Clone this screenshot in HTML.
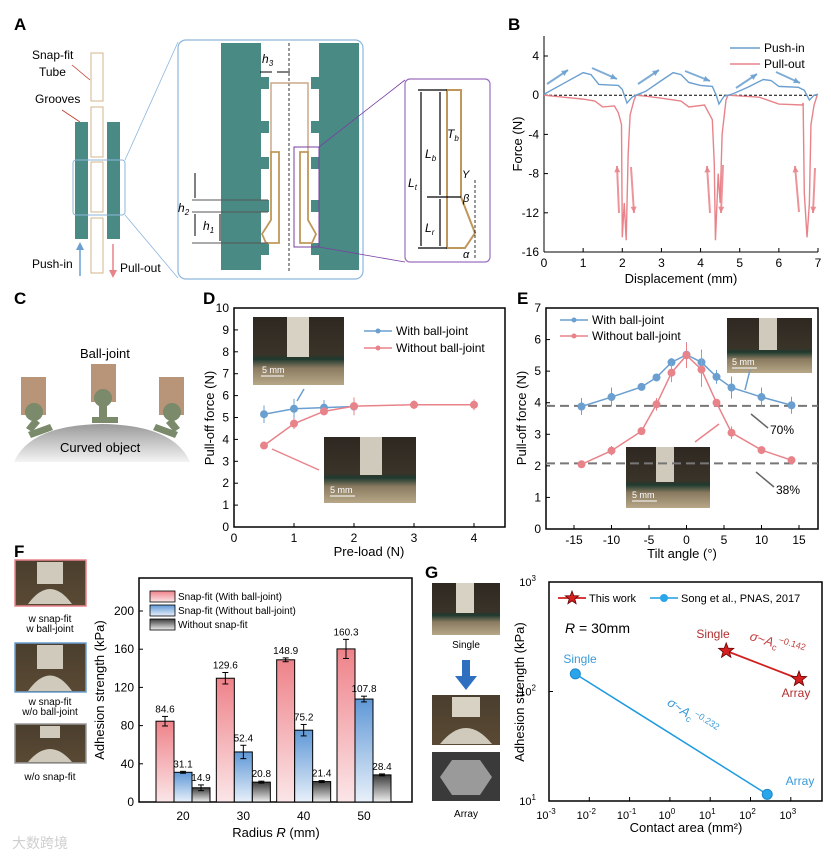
<!DOCTYPE html>
<html><head><meta charset="utf-8">
<style>
html,body{margin:0;padding:0;background:#fff;}
svg{display:block;font-family:"Liberation Sans","Noto Sans CJK SC",sans-serif;}
</style></head>
<body>
<svg id="fig" width="831" height="856" viewBox="0 0 831 856">
<defs>
<linearGradient id="gRed" x1="0" y1="0" x2="0" y2="1"><stop offset="0" stop-color="#ee8289"/><stop offset="1" stop-color="#fbe6e8"/></linearGradient>
<linearGradient id="gBlue" x1="0" y1="0" x2="0" y2="1"><stop offset="0" stop-color="#5f98d6"/><stop offset="1" stop-color="#e8f0fa"/></linearGradient>
<linearGradient id="gGray" x1="0" y1="0" x2="0" y2="1"><stop offset="0" stop-color="#3a3a3a"/><stop offset="1" stop-color="#f0f0f0"/></linearGradient>
<linearGradient id="gPhoto" x1="0" y1="0" x2="0" y2="1"><stop offset="0" stop-color="#2e2822"/><stop offset="0.55" stop-color="#3a3328"/><stop offset="0.62" stop-color="#1f3a30"/><stop offset="0.75" stop-color="#8a7a60"/><stop offset="1" stop-color="#b8a888"/></linearGradient>
<linearGradient id="gDome" x1="0" y1="0" x2="0" y2="1"><stop offset="0" stop-color="#9a9a9a"/><stop offset="1" stop-color="#f4f4f4"/></linearGradient>
<linearGradient id="gBottle" x1="0" y1="0" x2="0" y2="1"><stop offset="0" stop-color="#4a3e2e"/><stop offset="1" stop-color="#5a4a34"/></linearGradient>
</defs>

<!-- Panel labels -->
<g font-weight="bold" font-size="17" fill="#000">
<text x="14" y="30">A</text>
<text x="508" y="30">B</text>
<text x="14" y="304">C</text>
<text x="203" y="304">D</text>
<text x="517" y="304">E</text>
<text x="14" y="557">F</text>
<text x="425" y="578">G</text>
</g>

<!-- Panel A schematic -->
<g>
  <text x="32" y="59" font-size="12">Snap-fit</text>
  <text x="39" y="76" font-size="12">Tube</text>
  <text x="35" y="103" font-size="12">Grooves</text>
  <line x1="72" y1="65" x2="90" y2="80" stroke="#c0392b" stroke-width="0.8"/>
  <line x1="62" y1="110" x2="80" y2="122" stroke="#c0392b" stroke-width="0.8"/>
  <rect x="75" y="122" width="13" height="117" fill="#4a8a84"/>
  <rect x="107" y="122" width="13" height="117" fill="#4a8a84"/>
  <g fill="none" stroke="#c8a46e" stroke-width="0.8">
    <rect x="91" y="53" width="12" height="48"/><rect x="91" y="107" width="12" height="50"/>
    <rect x="91" y="162" width="12" height="50"/><rect x="91" y="218" width="12" height="55"/>
  </g>
  <rect x="73" y="160" width="52" height="55" rx="3" fill="none" stroke="#8cb6dc" stroke-width="1"/>
  <line x1="80" y1="276" x2="80" y2="248" stroke="#6a9fd0" stroke-width="1.5"/>
  <polygon points="76,250 84,250 80,242" fill="#6a9fd0"/>
  <line x1="113" y1="244" x2="113" y2="272" stroke="#e8838a" stroke-width="1.5"/>
  <polygon points="109,270 117,270 113,278" fill="#e8838a"/>
  <text x="32" y="268" font-size="12">Push-in</text>
  <text x="120" y="272" font-size="12">Pull-out</text>
  <line x1="125" y1="160" x2="178" y2="42" stroke="#8cb6dc" stroke-width="0.8"/>
  <line x1="125" y1="215" x2="178" y2="278" stroke="#8cb6dc" stroke-width="0.8"/>
  <rect x="178" y="40" width="185" height="239" rx="8" fill="none" stroke="#8cb6dc" stroke-width="1.2"/>
  <rect x="221" y="43" width="40" height="227" fill="#4a8a84"/>
  <rect x="319" y="43" width="40" height="227" fill="#4a8a84"/>
  <g fill="#4a8a84">
    <rect x="261" y="77" width="8" height="12"/><rect x="261" y="121" width="8" height="12"/><rect x="261" y="157" width="8" height="12"/><rect x="261" y="200" width="8" height="12"/><rect x="261" y="243" width="8" height="12"/>
    <rect x="311" y="77" width="8" height="12"/><rect x="311" y="121" width="8" height="12"/><rect x="311" y="157" width="8" height="12"/><rect x="311" y="200" width="8" height="12"/><rect x="311" y="243" width="8" height="12"/>
  </g>
  <line x1="289" y1="43" x2="289" y2="272" stroke="#000" stroke-width="0.8" stroke-dasharray="3,2"/>
  <polyline points="271,152 271,83 308,83 308,152" fill="none" stroke="#c8a88a" stroke-width="1.5"/>
  <polygon points="271,152 279,152 279,243 266,243 262,234 271,220" fill="none" stroke="#c0975a" stroke-width="1.8"/>
  <polygon points="300,152 308,152 308,220 316,234 312,243 300,243" fill="none" stroke="#c0975a" stroke-width="1.8"/>
  <rect x="294" y="147" width="25" height="100" fill="none" stroke="#7a3fa0" stroke-width="1"/>
  <line x1="260" y1="72" x2="272" y2="72" stroke="#000"/><line x1="290" y1="72" x2="277" y2="72" stroke="#000"/>
  <text x="262" y="63" font-size="12" font-style="italic">h<tspan font-size="8" dy="3">3</tspan></text>
  <line x1="192" y1="200" x2="268" y2="200" stroke="#555"/><line x1="192" y1="212" x2="268" y2="212" stroke="#555"/><line x1="192" y1="243" x2="268" y2="243" stroke="#555"/>
  <line x1="195" y1="173" x2="195" y2="198" stroke="#000"/><line x1="195" y1="214" x2="195" y2="236" stroke="#000"/><line x1="220" y1="214" x2="220" y2="241" stroke="#000"/>
  <text x="178" y="212" font-size="12" font-style="italic">h<tspan font-size="8" dy="3">2</tspan></text>
  <text x="203" y="230" font-size="12" font-style="italic">h<tspan font-size="8" dy="3">1</tspan></text>
  <line x1="319" y1="147" x2="405" y2="80" stroke="#7a3fa0" stroke-width="0.8"/>
  <line x1="319" y1="247" x2="405" y2="262" stroke="#7a3fa0" stroke-width="0.8"/>
  <rect x="405" y="79" width="85" height="183" rx="5" fill="none" stroke="#9a6fbe" stroke-width="1.2"/>
  <polygon points="447,90 461,90 461,197 475,233 465,248 447,248" fill="none" stroke="#c0975a" stroke-width="2"/>
  <g stroke="#000" stroke-width="1.2">
    <line x1="418" y1="90" x2="447" y2="90"/><line x1="427" y1="197" x2="461" y2="197"/><line x1="418" y1="248" x2="447" y2="248"/>
    <line x1="421" y1="92" x2="421" y2="246"/><line x1="440" y1="92" x2="440" y2="195"/><line x1="440" y1="199" x2="440" y2="246"/>
  </g>
  <text x="408" y="187" font-size="12" font-style="italic">L<tspan font-size="8" dy="3">t</tspan></text>
  <text x="425" y="158" font-size="12" font-style="italic">L<tspan font-size="8" dy="3">b</tspan></text>
  <text x="425" y="232" font-size="12" font-style="italic">L<tspan font-size="8" dy="3">r</tspan></text>
  <text x="447" y="138" font-size="12" font-style="italic">T<tspan font-size="8" dy="3">b</tspan></text>
  <text x="462" y="178" font-size="11" font-style="italic">Y</text>
  <text x="463" y="202" font-size="11" font-style="italic">β</text>
  <text x="463" y="258" font-size="11" font-style="italic">α</text>
  <line x1="475" y1="180" x2="475" y2="258" stroke="#000" stroke-width="0.8" stroke-dasharray="3,2"/>
</g>

<!-- Panel C -->
<g>
  <text x="80" y="358" font-size="13">Ball-joint</text>
  <path d="M14,462 Q30,425 102,424 Q174,425 190,462 Z" fill="url(#gDome)"/>
  <text x="60" y="452" font-size="13">Curved object</text>
  <g fill="#b89578"><rect x="21" y="377" width="25" height="38"/><rect x="91" y="364" width="25" height="38"/><rect x="159" y="377" width="25" height="38"/></g>
  <g fill="#7a8a6a">
    <circle cx="34" cy="412" r="9"/><circle cx="103" cy="398" r="9"/><circle cx="172" cy="412" r="9"/>
    <rect x="99" y="405" width="8" height="14"/><rect x="92" y="417" width="26" height="6"/>
    <polygon points="34,418 40,423 32,432 26,428"/><polygon points="28,432 50,424 53,430 31,438"/>
    <polygon points="172,418 166,423 174,432 180,428"/><polygon points="178,432 156,424 153,430 175,438"/>
  </g>
</g>

<!-- Photos (insets) -->
<g>
  <rect x="253" y="317" width="91" height="68" fill="url(#gPhoto)"/>
  <rect x="287" y="317" width="22" height="40" fill="#d8d2c4"/>
  <text x="262" y="373" font-size="9" fill="#fff">5 mm</text><line x1="261" y1="376" x2="284" y2="376" stroke="#fff"/>
  <rect x="324" y="437" width="92" height="66" fill="url(#gPhoto)"/>
  <rect x="360" y="437" width="22" height="38" fill="#d0cabc"/>
  <text x="330" y="493" font-size="9" fill="#fff">5 mm</text><line x1="330" y1="496" x2="355" y2="496" stroke="#fff"/>
  <rect x="727" y="318" width="85" height="55" fill="url(#gPhoto)"/>
  <rect x="759" y="318" width="18" height="32" fill="#d0cabc"/>
  <text x="732" y="365" font-size="9" fill="#fff">5 mm</text><line x1="732" y1="368" x2="757" y2="368" stroke="#fff"/>
  <rect x="626" y="447" width="84" height="61" fill="url(#gPhoto)"/>
  <rect x="656" y="447" width="18" height="35" fill="#d0cabc"/>
  <text x="632" y="498" font-size="9" fill="#fff">5 mm</text><line x1="632" y1="501" x2="657" y2="501" stroke="#fff"/>
  <rect x="15" y="560" width="71" height="46" fill="url(#gBottle)" stroke="#e8838a" stroke-width="1.5"/>
  <rect x="15" y="643" width="71" height="49" fill="url(#gBottle)" stroke="#6a9fd0" stroke-width="1.5"/>
  <rect x="15" y="724" width="71" height="39" fill="url(#gBottle)" stroke="#999" stroke-width="1.5"/>
  <g fill="#cfcabb"><rect x="37" y="562" width="26" height="22"/><path d="M28,604 Q50,574 72,604Z"/><rect x="37" y="645" width="26" height="24"/><path d="M28,691 Q50,660 72,691Z"/><rect x="40" y="726" width="20" height="12"/><path d="M28,762 Q50,736 72,762Z"/></g>
  <g font-size="10" text-anchor="middle">
    <text x="50" y="622">w snap-fit</text><text x="50" y="632">w ball-joint</text>
    <text x="50" y="705">w snap-fit</text><text x="50" y="715">w/o ball-joint</text>
    <text x="50" y="780">w/o snap-fit</text>
  </g>
  <rect x="432" y="583" width="68" height="52" fill="url(#gPhoto)"/>
  <rect x="456" y="583" width="18" height="30" fill="#d8d2c4"/>
  <text x="466" y="648" font-size="10" text-anchor="middle">Single</text>
  <rect x="462" y="660" width="8" height="16" fill="#2e6fc0"/><polygon points="455,676 477,676 466,690" fill="#2e6fc0"/>
  <rect x="432" y="695" width="68" height="50" fill="url(#gBottle)"/>
  <rect x="452" y="697" width="28" height="20" fill="#d8d2c4"/><path d="M440,744 Q466,712 492,744Z" fill="#cfcabb"/>
  <rect x="432" y="752" width="68" height="49" fill="#3a3a3a"/>
  <polygon points="452,760 480,760 492,777 480,795 452,795 440,777" fill="#9a9a9a"/>
  <text x="466" y="817" font-size="10" text-anchor="middle">Array</text>
</g>
<text x="12" y="848" font-size="14" fill="#cfcfcf">大数跨境</text>

<g id="charts"></g>
</svg>

<script>
// ---- Panel B data ----
const bPushX = [0,0.5,1.0,1.2,1.4,1.9,2.0,2.12,2.25,2.35,2.6,3.0,3.3,3.5,3.7,4.0,4.3,4.4,4.47,4.6,4.8,5.2,5.6,5.8,6.0,6.5,6.65,6.78,6.9,7.0];
const bPushY = [0.1,1.2,2.3,2.1,1.1,1.0,0.6,-0.8,-0.2,0,0.4,1.5,2.3,2.1,1.3,1.0,0.9,0,-0.9,-0.1,0.1,0.8,1.6,1.5,0.9,0.8,0.5,-0.5,0,0.1];
const bPullX = [0,0.5,1,1.3,1.5,1.8,1.9,1.98,2.0,2.05,2.1,2.15,2.2,2.3,2.35,2.6,3,3.5,3.7,4.1,4.3,4.35,4.38,4.45,4.5,4.55,4.65,4.7,5.5,6.0,6.6,6.62,6.65,6.72,6.78,6.82,6.9,6.98];
const bPullY = [0,-0.2,-0.4,-0.6,-1.2,-1.1,-1.8,-3,-14.5,-11,-14.8,-6,-2,-0.5,0,-0.1,-0.3,-0.6,-1.2,-1.0,-2.5,-7,-14.8,-8,-11,-4,-0.5,0,-0.2,-0.9,-1.0,-0.8,-10,-14.5,-11,-3,-1,0];
const bXTicks = [0,1,2,3,4,5,6,7];
const bYTicks = [4,0,-4,-8,-12,-16];
// ---- Panel D data ----
const dWithX = [0.5,1,1.5,2];
const dWithY = [5.15,5.4,5.45,5.5];
const dWithErr = [0.4,0.45,0.35,0.4];
const dWoX = [0.5,1,1.5,2,3,4];
const dWoY = [3.72,4.72,5.28,5.52,5.58,5.58];
const dWoErr = [0.05,0.25,0.15,0.4,0.2,0.25];
const dXTicks = [0,1,2,3,4];
const dYTicks = [0,1,2,3,4,5,6,7,8,9,10];
// ---- Panel E data ----
const eAngles = [-14,-10,-6,-4,-2,0,2,4,6,10,14];
const eWithY = [3.88,4.18,4.5,4.8,5.28,5.52,5.28,4.82,4.48,4.18,3.92];
const eWithErr = [0.27,0.3,0.07,0.08,0.13,0.4,0.4,0.22,0.35,0.3,0.27];
const eWoY = [2.05,2.48,3.1,3.95,4.95,5.5,5.05,4.0,3.05,2.5,2.18];
const eWoErr = [0.05,0.15,0.07,0.2,0.3,0.4,0.55,0.1,0.2,0.08,0.07];
const eRefLines = [3.9,2.08];
const eXTicks = [-15,-10,-5,0,5,10,15];
const eYTicks = [0,1,2,3,4,5,6,7];
// ---- Panel F data ----
const fRadii = [20,30,40,50];
const fWithBall = [84.6,129.6,148.9,160.3];
const fWithBallErr = [5,6,2,10];
const fWoBall = [31.1,52.4,75.2,107.8];
const fWoBallErr = [1,7,6,3];
const fWoSnap = [14.9,20.8,21.4,28.4];
const fWoSnapErr = [3,1,1,1];
const fYTicks = [0,40,80,120,160,200];
// ---- Panel G data ----
const gThisArea = [25,1600];
const gThisStrength = [235,130];
const gSongArea = [0.0045,260];
const gSongStrength = [145,11.5];
const gXTickExp = [-3,-2,-1,0,1,2,3];
const gYTickExp = [1,2,3];

const NS = 'http://www.w3.org/2000/svg';
const root = document.getElementById('charts');
function mk(parent, tag, attrs, name, inter) {
  const el = document.createElementNS(NS, tag);
  for (const k in attrs) el.setAttribute(k, attrs[k]);
  
  
  parent.appendChild(el);
  return el;
}
function txt(parent, x, y, s, size, anchor, name, extra) {
  const t = mk(parent, 'text', Object.assign({x:x, y:y, 'font-size':size, 'text-anchor':anchor||'middle'}, extra||{}), name, false);
  t.textContent = s;
  return t;
}
function lin(d0,d1,r0,r1){return v=>r0+(v-d0)*(r1-r0)/(d1-d0);}
const RED='#e8838a', BLUE='#6a9fd0';

// ===== Panel B =====
(function(){
  const g = mk(root,'g',{},'panel-b-force-chart',false);
  const X = lin(0,7,544,818), Y = lin(4,-16,56,252);
  mk(g,'line',{x1:544,y1:36,x2:544,y2:252,stroke:'#000','stroke-width':1},'y-axis',false);
  mk(g,'line',{x1:544,y1:252,x2:818,y2:252,stroke:'#000','stroke-width':1},'x-axis',false);
  bXTicks.forEach(v=>{
    mk(g,'line',{x1:X(v),y1:252,x2:X(v),y2:248,stroke:'#000'},'x-tick',false);
    txt(g,X(v),267,String(v),12,'middle','x-tick-label');
  });
  bYTicks.forEach(v=>{
    mk(g,'line',{x1:544,y1:Y(v),x2:548,y2:Y(v),stroke:'#000'},'y-tick',false);
    txt(g,539,Y(v)+4,String(v),12,'end','y-tick-label');
  });
  txt(g,681,283,'Displacement (mm)',13,'middle','x-axis-title');
  txt(g,0,0,'Force (N)',13,'middle','y-axis-title',{transform:'translate(522,144) rotate(-90)'});
  mk(g,'line',{x1:544,y1:Y(0),x2:818,y2:Y(0),stroke:'#000','stroke-dasharray':'3,2'},'zero-line',false);
  mk(g,'polyline',{points:bPullX.map((x,i)=>X(x)+','+Y(bPullY[i])).join(' '),fill:'none',stroke:RED,'stroke-width':1.4},'pull-out-line',false);
  mk(g,'polyline',{points:bPushX.map((x,i)=>X(x)+','+Y(bPushY[i])).join(' '),fill:'none',stroke:BLUE,'stroke-width':1.4},'push-in-line',false);
  mk(g,'line',{x1:730,y1:48,x2:760,y2:48,stroke:BLUE,'stroke-width':1.5},'legend-push-swatch',false);
  txt(g,764,52,'Push-in',12,'start','legend-push-in');
  mk(g,'line',{x1:730,y1:64,x2:760,y2:64,stroke:RED,'stroke-width':1.5},'legend-pull-swatch',false);
  txt(g,764,68,'Pull-out',12,'start','legend-pull-out');
  const arr = [[547,84,568,70,BLUE],[592,68,617,79,BLUE],[638,84,659,70,BLUE],[685,71,710,81,BLUE],[736,88,757,74,BLUE],[776,72,800,83,BLUE],
               [619,213,617,166,RED],[631,167,634,213,RED],[710,213,707,166,RED],[723,165,721,213,RED],[799,212,795,166,RED],[815,168,813,213,RED]];
  arr.forEach(a=>{
    mk(g,'line',{x1:a[0],y1:a[1],x2:a[2],y2:a[3],stroke:a[4],'stroke-width':2,opacity:0.85},'trend-arrow',false);
    const ang=Math.atan2(a[3]-a[1],a[2]-a[0]);
    const p=(r,da)=>(a[2]-r*Math.cos(ang+da))+','+(a[3]-r*Math.sin(ang+da));
    mk(g,'polygon',{points:a[2]+','+a[3]+' '+p(7,0.45)+' '+p(7,-0.45),fill:a[4],opacity:0.85},'trend-arrowhead',false);
  });
})();

// ===== Panel D =====
(function(){
  const g = mk(root,'g',{},'panel-d-preload-chart',false);
  const X = lin(0,4,234,474), Y = lin(0,10,527,308);
  mk(g,'rect',{x:234,y:308,width:271,height:219,fill:'none',stroke:'#000','stroke-width':1.5},'plot-frame',false);
  dXTicks.forEach(v=>{
    mk(g,'line',{x1:X(v),y1:527,x2:X(v),y2:523,stroke:'#000'},'x-tick',false);
    txt(g,X(v),542,String(v),12,'middle','x-tick-label');
  });
  dYTicks.forEach(v=>{
    mk(g,'line',{x1:234,y1:Y(v),x2:238,y2:Y(v),stroke:'#000'},'y-tick',false);
    txt(g,229,Y(v)+4,String(v),12,'end','y-tick-label');
  });
  txt(g,369,556,'Pre-load (N)',13,'middle','x-axis-title');
  txt(g,0,0,'Pull-off force (N)',13,'middle','y-axis-title',{transform:'translate(214,418) rotate(-90)'});
  [[dWithX,dWithY,dWithErr,BLUE,'with-ball-joint'],[dWoX,dWoY,dWoErr,RED,'without-ball-joint']].forEach(s=>{
    mk(g,'polyline',{points:s[0].map((x,i)=>X(x)+','+Y(s[1][i])).join(' '),fill:'none',stroke:s[3],'stroke-width':1.5},s[4]+'-line',false);
    s[0].forEach((x,i)=>{
      mk(g,'line',{x1:X(x),y1:Y(s[1][i]-s[2][i]),x2:X(x),y2:Y(s[1][i]+s[2][i]),stroke:s[3]},'error-bar',false);
      mk(g,'circle',{cx:X(x),cy:Y(s[1][i]),r:4,fill:s[3]},s[4]+'-point',false);
    });
  });
  mk(g,'line',{x1:364,y1:331,x2:392,y2:331,stroke:BLUE,'stroke-width':1.5},'legend-swatch',false);
  mk(g,'circle',{cx:378,cy:331,r:2.5,fill:BLUE},'legend-marker',false);
  txt(g,396,335,'With ball-joint',12,'start','legend-with-ball-joint');
  mk(g,'line',{x1:364,y1:348,x2:392,y2:348,stroke:RED,'stroke-width':1.5},'legend-swatch',false);
  mk(g,'circle',{cx:378,cy:348,r:2.5,fill:RED},'legend-marker',false);
  txt(g,396,352,'Without ball-joint',12,'start','legend-without-ball-joint');
  mk(g,'line',{x1:304,y1:389,x2:297,y2:401,stroke:BLUE,'stroke-width':1.5},'pointer-arrow',false);
  mk(g,'line',{x1:319,y1:470,x2:272,y2:449,stroke:RED,'stroke-width':1.5},'pointer-arrow',false);
})();

// ===== Panel E =====
(function(){
  const g = mk(root,'g',{},'panel-e-tilt-chart',false);
  const X = lin(-15,15,574,799), Y = lin(0,7,529,308);
  mk(g,'rect',{x:546,y:308,width:272,height:221,fill:'none',stroke:'#000','stroke-width':1.5},'plot-frame',false);
  eXTicks.forEach(v=>{
    mk(g,'line',{x1:X(v),y1:529,x2:X(v),y2:525,stroke:'#000'},'x-tick',false);
    txt(g,X(v),544,String(v),12,'middle','x-tick-label');
  });
  eYTicks.forEach(v=>{
    mk(g,'line',{x1:546,y1:Y(v),x2:550,y2:Y(v),stroke:'#000'},'y-tick',false);
    txt(g,541,Y(v)+4,String(v),12,'end','y-tick-label');
  });
  txt(g,682,558,'Tilt angle (°)',13,'middle','x-axis-title');
  txt(g,0,0,'Pull-off force (N)',13,'middle','y-axis-title',{transform:'translate(526,418) rotate(-90)'});
  eRefLines.forEach(v=>mk(g,'line',{x1:546,y1:Y(v),x2:818,y2:Y(v),stroke:'#777','stroke-width':2,'stroke-dasharray':'9,5'},'reference-line',false));
  [[eWithY,eWithErr,BLUE,'with-ball-joint'],[eWoY,eWoErr,RED,'without-ball-joint']].forEach(s=>{
    mk(g,'polyline',{points:eAngles.map((x,i)=>X(x)+','+Y(s[0][i])).join(' '),fill:'none',stroke:s[2],'stroke-width':1.5},s[3]+'-line',false);
    eAngles.forEach((x,i)=>{
      mk(g,'line',{x1:X(x),y1:Y(s[0][i]-s[1][i]),x2:X(x),y2:Y(s[0][i]+s[1][i]),stroke:s[2]},'error-bar',false);
      mk(g,'circle',{cx:X(x),cy:Y(s[0][i]),r:4,fill:s[2]},s[3]+'-point',false);
    });
  });
  mk(g,'line',{x1:560,y1:320,x2:588,y2:320,stroke:BLUE,'stroke-width':1.5},'legend-swatch',false);
  mk(g,'circle',{cx:574,cy:320,r:2.5,fill:BLUE},'legend-marker',false);
  txt(g,592,324,'With ball-joint',12,'start','legend-with-ball-joint');
  mk(g,'line',{x1:560,y1:336,x2:588,y2:336,stroke:RED,'stroke-width':1.5},'legend-swatch',false);
  mk(g,'circle',{cx:574,cy:336,r:2.5,fill:RED},'legend-marker',false);
  txt(g,592,340,'Without ball-joint',12,'start','legend-without-ball-joint');
  txt(g,770,434,'70%',12,'start','label-70-percent');
  txt(g,776,494,'38%',12,'start','label-38-percent');
  mk(g,'line',{x1:768,y1:428,x2:751,y2:414,stroke:'#666','stroke-width':1.5},'pointer-arrow',false);
  mk(g,'line',{x1:774,y1:487,x2:756,y2:472,stroke:'#666','stroke-width':1.5},'pointer-arrow',false);
  mk(g,'line',{x1:750,y1:370,x2:745,y2:390,stroke:BLUE,'stroke-width':1.5},'pointer-arrow',false);
  mk(g,'line',{x1:695,y1:442,x2:719,y2:424,stroke:RED,'stroke-width':1.5},'pointer-arrow',false);
})();

// ===== Panel F =====
(function(){
  const g = mk(root,'g',{},'panel-f-bar-chart',false);
  const Y = lin(0,200,802,611);
  const X = lin(20,50,183,364);
  mk(g,'rect',{x:139,y:578,width:273,height:224,fill:'none',stroke:'#000','stroke-width':1.5},'plot-frame',false);
  fYTicks.forEach(v=>{
    mk(g,'line',{x1:139,y1:Y(v),x2:143,y2:Y(v),stroke:'#000'},'y-tick',false);
    txt(g,134,Y(v)+4,String(v),12,'end','y-tick-label');
  });
  const series = [[fWithBall,fWithBallErr,'url(#gRed)',-18,'bar-with-ball-joint'],[fWoBall,fWoBallErr,'url(#gBlue)',0,'bar-without-ball-joint'],[fWoSnap,fWoSnapErr,'url(#gGray)',18,'bar-without-snap-fit']];
  fRadii.forEach((r,i)=>{
    mk(g,'line',{x1:X(r),y1:802,x2:X(r),y2:798,stroke:'#000'},'x-tick',false);
    txt(g,X(r),820,String(r),12,'middle','x-tick-label');
    series.forEach(s=>{
      const v=s[0][i], cx=X(r)+s[3];
      mk(g,'rect',{x:cx-9,y:Y(v),width:18,height:802-Y(v),fill:s[2],stroke:'#000','stroke-width':1},s[4],false);
      mk(g,'line',{x1:cx,y1:Y(v-s[1][i]),x2:cx,y2:Y(v+s[1][i]),stroke:'#000'},'error-bar',false);
      mk(g,'line',{x1:cx-3,y1:Y(v+s[1][i]),x2:cx+3,y2:Y(v+s[1][i]),stroke:'#000'},'error-cap',false);
      mk(g,'line',{x1:cx-3,y1:Y(v-s[1][i]),x2:cx+3,y2:Y(v-s[1][i]),stroke:'#000'},'error-cap',false);
      txt(g,cx,Y(v+s[1][i])-4,v.toFixed(1),10,'middle','bar-value-label');
    });
  });
  txt(g,276,837,'',13,'middle','x-axis-title').innerHTML='Radius <tspan font-style="italic">R</tspan> (mm)';
  txt(g,0,0,'Adhesion strength (kPa)',13,'middle','y-axis-title',{transform:'translate(104,690) rotate(-90)'});
  const leg=[['url(#gRed)','Snap-fit (With ball-joint)'],['url(#gBlue)','Snap-fit (Without ball-joint)'],['url(#gGray)','Without snap-fit']];
  leg.forEach((l,i)=>{
    mk(g,'rect',{x:150,y:591+i*14,width:25,height:11,fill:l[0],stroke:'#000','stroke-width':0.8},'legend-swatch',false);
    txt(g,178,600+i*14,l[1],10,'start','legend-entry');
  });
})();

// ===== Panel G =====
(function(){
  const g = mk(root,'g',{},'panel-g-log-chart',false);
  const X = v=>549+(Math.log10(v)+3)*40.3;
  const Y = v=>801-(Math.log10(v)-1)*109.5;
  mk(g,'rect',{x:549,y:582,width:273,height:219,fill:'none',stroke:'#000','stroke-width':1.5},'plot-frame',false);
  gXTickExp.forEach(e=>{
    const x=X(Math.pow(10,e));
    mk(g,'line',{x1:x,y1:801,x2:x,y2:797,stroke:'#000'},'x-tick',false);
    const t=txt(g,x-3,819,'10',11,'middle','x-tick-label');
    const ts=document.createElementNS(NS,'tspan'); ts.setAttribute('dy','-5'); ts.setAttribute('font-size','8'); ts.textContent=String(e); t.appendChild(ts);
  });
  gYTickExp.forEach(e=>{
    const y=Y(Math.pow(10,e));
    mk(g,'line',{x1:549,y1:y,x2:553,y2:y,stroke:'#000'},'y-tick',false);
    const t=txt(g,536,y+4,'10',11,'end','y-tick-label');
    const ts=document.createElementNS(NS,'tspan'); ts.setAttribute('dy','-5'); ts.setAttribute('font-size','8'); ts.textContent=String(e); t.appendChild(ts);
  });
  txt(g,686,832,'Contact area (mm²)',13,'middle','x-axis-title');
  txt(g,0,0,'Adhesion strength (kPa)',13,'middle','y-axis-title',{transform:'translate(524,692) rotate(-90)'});
  mk(g,'line',{x1:X(gSongArea[0]),y1:Y(gSongStrength[0]),x2:X(gSongArea[1]),y2:Y(gSongStrength[1]),stroke:'#1e9be0','stroke-width':1.5},'song-line',false);
  gSongArea.forEach((a,i)=>mk(g,'circle',{cx:X(a),cy:Y(gSongStrength[i]),r:5,fill:'#2aa5ea',stroke:'#1e88cc'},'song-point',false));
  mk(g,'line',{x1:X(gThisArea[0]),y1:Y(gThisStrength[0]),x2:X(gThisArea[1]),y2:Y(gThisStrength[1]),stroke:'#d02020','stroke-width':1.8},'this-work-line',false);
  function star(cx,cy,r,name){
    let p=[];for(let k=0;k<10;k++){const rr=k%2?r*0.42:r;const a=-Math.PI/2+k*Math.PI/5;p.push((cx+rr*Math.cos(a)).toFixed(1)+','+(cy+rr*Math.sin(a)).toFixed(1));}
    mk(g,'polygon',{points:p.join(' '),fill:'#d42020',stroke:'#600','stroke-width':0.8},name,false);
  }
  gThisArea.forEach((a,i)=>star(X(a),Y(gThisStrength[i]),8,'this-work-point'));
  mk(g,'line',{x1:558,y1:598,x2:586,y2:598,stroke:'#d02020','stroke-width':1.8},'legend-swatch',false);
  star(572,598,7,'legend-star');
  txt(g,589,602,'This work',11,'start','legend-this-work');
  mk(g,'line',{x1:650,y1:598,x2:678,y2:598,stroke:'#1e9be0','stroke-width':1.5},'legend-swatch',false);
  mk(g,'circle',{cx:664,cy:598,r:4,fill:'#2aa5ea'},'legend-marker',false);
  txt(g,681,602,'Song et al., PNAS, 2017',11,'start','legend-song');
  txt(g,565,633,'',14,'start','r-label').innerHTML='<tspan font-style="italic">R</tspan> = 30mm';
  txt(g,713,638,'Single',12,'middle','this-single-label',{fill:'#b03030'});
  txt(g,796,697,'Array',12,'middle','this-array-label',{fill:'#b03030'});
  txt(g,580,663,'Single',12,'middle','song-single-label',{fill:'#3a9ad8'});
  txt(g,800,785,'Array',12,'middle','song-array-label',{fill:'#3a9ad8'});
  txt(g,0,0,'',13,'middle','this-work-fit-label',{fill:'#c04040',transform:'translate(776,648) rotate(17)'}).innerHTML='<tspan font-style="italic">σ</tspan>~<tspan font-style="italic">A</tspan><tspan font-size="9" dy="3">c</tspan><tspan font-size="9" dy="-9">−0.142</tspan>';
  txt(g,0,0,'',13,'middle','song-fit-label',{fill:'#3a9ad8',transform:'translate(690,720) rotate(33)'}).innerHTML='<tspan font-style="italic">σ</tspan>~<tspan font-style="italic">A</tspan><tspan font-size="9" dy="3">c</tspan><tspan font-size="9" dy="-9">−0.232</tspan>';
})();
</script>
</body></html>
